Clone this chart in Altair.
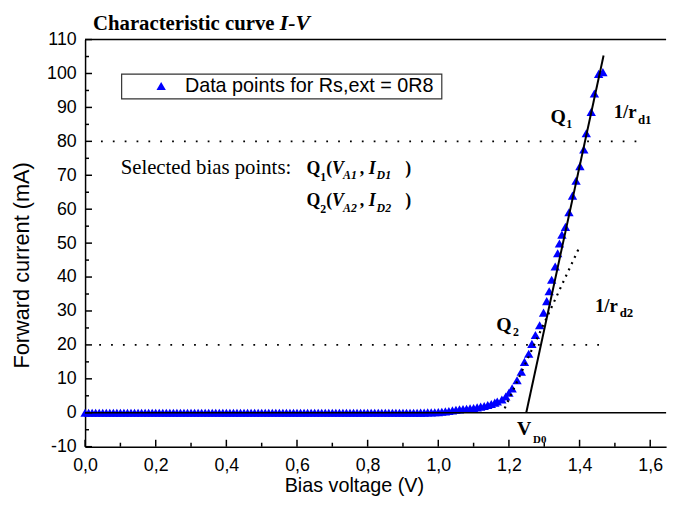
import altair as alt
import pandas as pd

# ---------------- data ----------------
V_FLAT = [0.00, 0.01, 0.02, 0.03, 0.04, 0.05, 0.06, 0.07, 0.08, 0.09,
          0.10, 0.11, 0.12, 0.13, 0.14, 0.15, 0.16, 0.17, 0.18, 0.19,
          0.20, 0.21, 0.22, 0.23, 0.24, 0.25, 0.26, 0.27, 0.28, 0.29,
          0.30, 0.31, 0.32, 0.33, 0.34, 0.35, 0.36, 0.37, 0.38, 0.39,
          0.40, 0.41, 0.42, 0.43, 0.44, 0.45, 0.46, 0.47, 0.48, 0.49,
          0.50, 0.51, 0.52, 0.53, 0.54, 0.55, 0.56, 0.57, 0.58, 0.59,
          0.60, 0.61, 0.62, 0.63, 0.64, 0.65, 0.66, 0.67, 0.68, 0.69,
          0.70, 0.71, 0.72, 0.73, 0.74, 0.75, 0.76, 0.77, 0.78, 0.79,
          0.80, 0.81, 0.82, 0.83, 0.84, 0.85, 0.86, 0.87, 0.88, 0.89,
          0.90, 0.91, 0.92, 0.93, 0.94, 0.95, 0.96, 0.97, 0.98, 0.99, 1.00]
I_FLAT = [0, 0, 0, 0, 0, 0, 0, 0, 0, 0,
          0, 0, 0, 0, 0, 0, 0, 0, 0, 0,
          0, 0, 0, 0, 0, 0, 0, 0, 0, 0,
          0, 0, 0, 0, 0, 0, 0, 0, 0, 0,
          0, 0, 0, 0, 0, 0, 0, 0, 0, 0,
          0, 0, 0, 0, 0, 0, 0, 0, 0, 0,
          0, 0, 0, 0, 0, 0, 0, 0, 0, 0,
          0, 0, 0, 0, 0, 0, 0, 0, 0, 0,
          0, 0, 0, 0, 0, 0, 0, 0, 0, 0,
          0, 0, 0, 0, 0, 0.05, 0.05, 0.1, 0.1, 0.15, 0.2]
V_RISE = [1.01, 1.02, 1.03, 1.04, 1.05, 1.06, 1.07, 1.08, 1.09, 1.10,
          1.11, 1.12, 1.13, 1.14, 1.15, 1.16, 1.167, 1.18, 1.191, 1.200,
          1.209, 1.223, 1.235, 1.244, 1.256, 1.265, 1.275, 1.287, 1.298, 1.307,
          1.314, 1.321, 1.331, 1.338, 1.343, 1.350, 1.360, 1.370, 1.380, 1.390,
          1.401, 1.412, 1.419, 1.433, 1.442, 1.454, 1.466]
I_RISE = [0.3, 0.4, 0.5, 0.7, 0.9, 1.0, 1.1, 1.2, 1.3, 1.4,
          1.6, 1.8, 2.0, 2.3, 2.6, 3.0, 3.3, 3.9, 4.8, 5.9,
          7.2, 9.6, 12.1, 15.0, 17.4, 20.3, 22.9, 25.8, 29.5, 32.9,
          35.8, 39.2, 43.1, 47.0, 49.9, 52.5, 54.8, 59.1, 64.0, 68.4,
          72.7, 77.6, 82.4, 88.7, 94.1, 99.9, 100.4]
SERIES = "Data points for Rs,ext = 0R8"

# tangent lines (1/r_d1 solid, 1/r_d2 dotted)
TAN1_V = [1.249, 1.468]
TAN1_I = [0.0, 105.3]
TAN2_V = [1.188, 1.399]
TAN2_I = [1.3, 48.7]

# dotted horizontal guide lines
HL_I = [80, 20]
HL_V0 = [0.045, 0.040]
HL_V1 = [1.575, 1.480]

# axis ticks
X_MAJOR = [0.0, 0.2, 0.4, 0.6, 0.8, 1.0, 1.2, 1.4, 1.6]
X_MINOR = [0.1, 0.3, 0.5, 0.7, 0.9, 1.1, 1.3, 1.5]
Y_MAJOR = [-10, 0, 10, 20, 30, 40, 50, 60, 70, 80, 90, 100, 110]
Y_MINOR = [-5, 5, 15, 25, 35, 45, 55, 65, 75, 85, 95, 105]

X_MAX = 1.645
Y_DOM = [-10, 110]

# annotations (text, V, I, font size)
ANN_BOLD = [
    ("Q", 1.3177, 85.5, 20), ("1", 1.3624, 83.8, 12),
    ("1/r", 1.4967, 87.0, 19), ("d1", 1.5653, 85.2, 13),
    ("Q", 1.1638, 24.1, 20), ("2", 1.2114, 22.6, 12),
    ("1/r", 1.4436, 29.6, 19), ("d2", 1.5135, 28.2, 13),
    ("V", 1.2225, -6.5, 20), ("D0", 1.2685, -8.8, 11),
    ("Q", 0.6267, 70.4, 18), ("1", 0.6658, 68.4, 12), ("(", 0.6826, 70.4, 18),
    (",", 0.7777, 70.4, 18), (")", 0.9064, 70.4, 18),
    ("Q", 0.6267, 60.8, 18), ("2", 0.6658, 58.8, 12), ("(", 0.6826, 60.8, 18),
    (",", 0.7777, 60.8, 18), (")", 0.9064, 60.8, 18),
]
ANN_ITALIC = [
    ("V", 0.6994, 70.4, 18), ("A1", 0.7302, 68.9, 12),
    ("I", 0.8029, 70.4, 18), ("D1", 0.8253, 68.9, 12),
    ("V", 0.6994, 60.8, 18), ("A2", 0.7302, 59.3, 12),
    ("I", 0.8029, 60.8, 18), ("D2", 0.8253, 59.3, 12),
]
ANN_REG = [("Selected bias points:", 0.1007, 70.4, 21)]

W, H = 588, 412

# ---------------- build ----------------
pts = pd.DataFrame({"V": V_FLAT + V_RISE, "I": I_FLAT + I_RISE})
pts["series"] = SERIES

xs = alt.Scale(domain=[0, X_MAX], nice=False, zero=False)
ys = alt.Scale(domain=Y_DOM, nice=False, zero=False)

x_axis = alt.Axis(values=X_MAJOR, labelExpr="replace(format(datum.value, '.1f'), '.', ',')",
                  ticks=False, grid=False, domainColor="black", domainWidth=1.5,
                  labelFont="Liberation Sans", labelFontSize=18, labelColor="black",
                  labelPadding=10, labelOverlap=False, labelFlush=False,
                  title="Bias voltage (V)", titleFont="Liberation Sans", titleFontSize=20,
                  titleFontWeight="normal", titleColor="black", titleX=272, titleY=39,
                  titleBaseline="middle", titleAlign="center")
y_axis = alt.Axis(values=Y_MAJOR,
                  labelExpr="datum.value < 0 ? '-' + format(-datum.value, 'd') : format(datum.value, 'd')",
                  ticks=False, grid=False, domainColor="black", domainWidth=1.5,
                  labelFont="Liberation Sans", labelFontSize=18, labelColor="black",
                  labelPadding=9, labelOverlap=False, labelFlush=False,
                  title="Forward current (mA)", titleFont="Liberation Sans", titleFontSize=22,
                  titleFontWeight="normal", titleColor="black", titleX=-64, titleY=228,
                  titleBaseline="middle", titleAlign="center", titleAngle=270)


def X(field):
    return alt.X(field, scale=xs, axis=x_axis)


def Y(field):
    return alt.Y(field, scale=ys, axis=y_axis)


legend_box = alt.Chart(pd.DataFrame({"k": [0]})).mark_rect(
    fill="white", stroke="#333333", strokeWidth=1.2).encode(
    x=alt.value(37), x2=alt.value(361), y=alt.value(35), y2=alt.value(60))

zero_line = alt.Chart(pd.DataFrame({"I": [0], "V0": [0], "V1": [X_MAX]})).mark_rule(
    color="black", strokeWidth=1.5).encode(x=X("V0:Q"), x2="V1", y=Y("I:Q"))

top_line = alt.Chart(pd.DataFrame({"I": [Y_DOM[1]], "V0": [0], "V1": [X_MAX]})).mark_rule(
    color="black", strokeWidth=1.5).encode(x=X("V0:Q"), x2="V1", y=Y("I:Q"))

hlines = alt.Chart(pd.DataFrame({"I": HL_I, "V0": HL_V0, "V1": HL_V1})).mark_rule(
    color="black", strokeWidth=1.8, strokeDash=[1.8, 10.2]).encode(
    x=X("V0:Q"), x2="V1", y=Y("I:Q"))

points = alt.Chart(pts).mark_point(shape="triangle-up", filled=True, size=90, opacity=1,
                                   strokeWidth=0).encode(
    x=X("V:Q"), y=Y("I:Q"),
    color=alt.Color("series:N", scale=alt.Scale(range=["#0000ff"]),
                    legend=alt.Legend(title=None, orient="none", legendX=37, legendY=32,
                                      padding=5,
                                      symbolType="triangle-up", symbolSize=90,
                                      symbolFillColor="#0000ff", symbolStrokeWidth=0,
                                      symbolOffset=25, labelOffset=14,
                                      labelFont="Liberation Sans", labelFontSize=20,
                                      labelColor="black", labelLimit=500)),
)

tan1 = alt.Chart(pd.DataFrame({"V": TAN1_V, "I": TAN1_I})).mark_line(
    color="black", strokeWidth=2).encode(x=X("V:Q"), y=Y("I:Q"))
tan2 = alt.Chart(pd.DataFrame({"V": TAN2_V, "I": TAN2_I})).mark_line(
    color="black", strokeWidth=2.2, strokeDash=[2, 5]).encode(x=X("V:Q"), y=Y("I:Q"))

xt_major = alt.Chart(pd.DataFrame({"V": X_MAJOR})).mark_rule(color="black", strokeWidth=1.5).encode(
    x=X("V:Q"), y=alt.value(H), y2=alt.value(H - 7))
xt_minor = alt.Chart(pd.DataFrame({"V": X_MINOR})).mark_rule(color="black", strokeWidth=1.5).encode(
    x=X("V:Q"), y=alt.value(H), y2=alt.value(H - 4))
yt_major = alt.Chart(pd.DataFrame({"I": Y_MAJOR})).mark_rule(color="black", strokeWidth=1.5).encode(
    y=Y("I:Q"), x=alt.value(0), x2=alt.value(7))
yt_minor = alt.Chart(pd.DataFrame({"I": Y_MINOR})).mark_rule(color="black", strokeWidth=1.5).encode(
    y=Y("I:Q"), x=alt.value(0), x2=alt.value(4))


def ann_layer(rows, **mk):
    df = pd.DataFrame(rows, columns=["t", "V", "I", "s"])
    return alt.Chart(df).mark_text(align="left", baseline="alphabetic", color="black",
                                   font="Liberation Serif", **mk).encode(
        x=X("V:Q"), y=Y("I:Q"),
        text="t:N", size=alt.Size("s:Q", scale=None, legend=None))


ann_b = ann_layer(ANN_BOLD, fontWeight="bold")
ann_i = ann_layer(ANN_ITALIC, fontWeight="bold", fontStyle="italic")
ann_r = ann_layer(ANN_REG, fontWeight="normal")

title1 = alt.Chart(pd.DataFrame({"t": ["Characteristic curve"]})).mark_text(
    align="left", baseline="alphabetic", font="Liberation Serif", fontWeight="bold",
    fontSize=21, color="black").encode(text="t:N", x=alt.value(8), y=alt.value(-10))
title2 = alt.Chart(pd.DataFrame({"t": ["I-V"]})).mark_text(
    align="left", baseline="alphabetic", font="Liberation Serif", fontWeight="bold",
    fontStyle="italic", fontSize=22, color="black").encode(text="t:N", x=alt.value(197), y=alt.value(-10))

chart = alt.layer(
    points, zero_line, top_line, hlines, legend_box, tan1, tan2,
    xt_major, xt_minor, yt_major, yt_minor,
    ann_b, ann_i, ann_r, title1, title2,
).properties(
    width=W, height=H,
    autosize=alt.AutoSizeParams(type="none"),
    padding={"left": 78, "top": 29, "right": 9, "bottom": 50},
    background="white",
).configure_view(stroke=None)

chart.save("out.html", embed_options={"renderer": "svg", "actions": False})
